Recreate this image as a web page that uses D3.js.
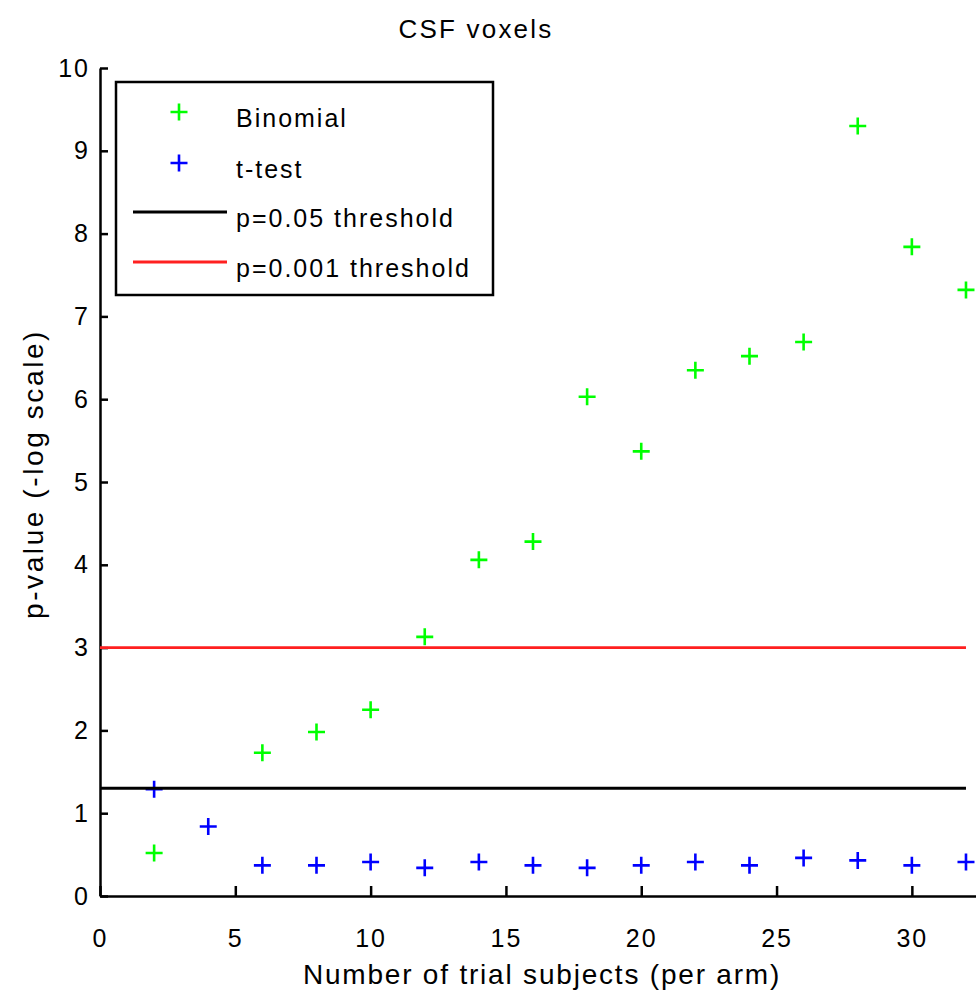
<!DOCTYPE html>
<html>
<head>
<meta charset="utf-8">
<script src="https://cdn.jsdelivr.net/npm/d3@7"></script>
<style>
  body { margin: 0; background: #fff; }
  svg { display: block; }
  text { font-family: "Liberation Sans", Arial, Helvetica, sans-serif; font-size: 25px; letter-spacing: 2px; fill: #000; }
  text.axlabel { font-size: 28px; letter-spacing: 1.8px; }
  text.ylab { font-size: 28px; letter-spacing: 2.6px; }
  text.title { font-size: 26px; letter-spacing: 2.2px; }
</style>
</head>
<body>
<svg id="chart" width="976" height="990"></svg>
<script>
// ---- data ----
const subjects = [2, 4, 6, 8, 10, 12, 14, 16, 18, 20, 22, 24, 26, 28, 30, 32];
const binomialX = [2, 6, 8, 10, 12, 14, 16, 18, 20, 22, 24, 26, 28, 30, 32];
const binomial  = [0.52, 1.73, 1.98, 2.25, 3.13, 4.06, 4.28, 6.03, 5.37, 6.35, 6.52, 6.69, 9.30, 7.84, 7.32];
const ttest     = [1.29, 0.84, 0.37, 0.37, 0.41, 0.34, 0.41, 0.37, 0.34, 0.37, 0.41, 0.37, 0.46, 0.43, 0.37, 0.41];
const thresholds = [
  { label: "p=0.05 threshold", value: -Math.log10(0.05), color: "#000000" },
  { label: "p=0.001 threshold", value: 3, color: "#ff2020" }
];
const xTicks = [0, 5, 10, 15, 20, 25, 30];
const yTicks = [0, 1, 2, 3, 4, 5, 6, 7, 8, 9, 10];
const seriesInfo = [
  { label: "Binomial", color: "#00ff00" },
  { label: "t-test", color: "#0000ff" }
];
const titleText = "CSF voxels";
const xLabel = "Number of trial subjects (per arm)";
const yLabel = "p-value (-log scale)";

// ---- layout ----
const svg = d3.select("#chart");
const x = d3.scaleLinear().domain([0, 32.37]).range([100, 976]);
const y = d3.scaleLinear().domain([0, 10]).range([896, 68]);
const AX = 2.5;

// axes
const gx = svg.append("g").attr("transform", `translate(0,${y(0)})`)
  .call(d3.axisBottom(x).tickValues(xTicks).tickFormat(d3.format("d"))
    .tickSizeInner(-10).tickSizeOuter(0).tickPadding(33));
const gy = svg.append("g").attr("transform", `translate(${x(0)},0)`)
  .call(d3.axisLeft(y).tickValues(yTicks).tickFormat(d3.format("d"))
    .tickSizeInner(-8).tickSizeOuter(0).tickPadding(10));
[gx, gy].forEach(g => {
  g.selectAll(".domain").attr("stroke", "#000").attr("stroke-width", AX);
  g.selectAll(".tick line").attr("stroke", "#000").attr("stroke-width", AX);
  g.attr("font-family", null).attr("font-size", null);
});

// markers
function plus(g, px, py, color) {
  const h = 8.5;
  g.append("path")
    .attr("d", `M${px - h},${py}H${px + h}M${px},${py - h}V${py + h}`)
    .attr("stroke", color).attr("stroke-width", 2.6).attr("fill", "none");
}
const gm = svg.append("g");
binomialX.forEach((s, i) => plus(gm, x(s), y(binomial[i]), seriesInfo[0].color));
subjects.forEach((s, i) => plus(gm, x(s), y(ttest[i]), seriesInfo[1].color));

// threshold lines
thresholds.forEach(t => {
  svg.append("line")
    .attr("x1", x(0)).attr("x2", x(32))
    .attr("y1", y(t.value)).attr("y2", y(t.value))
    .attr("stroke", t.color).attr("stroke-width", 2.8);
});

// title & labels
svg.append("text").attr("class", "title").attr("x", 476).attr("y", 38).attr("text-anchor", "middle").text(titleText);
svg.append("text").attr("class", "axlabel").attr("x", 542).attr("y", 984).attr("text-anchor", "middle").text(xLabel);
svg.append("text").attr("class", "ylab").attr("transform", "translate(43,474) rotate(-90)").attr("text-anchor", "middle").text(yLabel);

// legend
const lg = svg.append("g");
lg.append("rect").attr("x", 116).attr("y", 82).attr("width", 377).attr("height", 213)
  .attr("fill", "#fff").attr("stroke", "#000").attr("stroke-width", AX);
const entryY = [112, 163, 212, 262];
seriesInfo.forEach((s, i) => {
  plus(lg, 179, entryY[i], s.color);
  lg.append("text").attr("x", 236).attr("y", entryY[i] + 15).text(s.label);
});
thresholds.forEach((t, j) => {
  const i = j + 2;
  lg.append("line").attr("x1", 133).attr("x2", 227).attr("y1", entryY[i]).attr("y2", entryY[i])
    .attr("stroke", t.color).attr("stroke-width", 2.8);
  lg.append("text").attr("x", 236).attr("y", entryY[i] + 15).text(t.label);
});
</script>
</body>
</html>
